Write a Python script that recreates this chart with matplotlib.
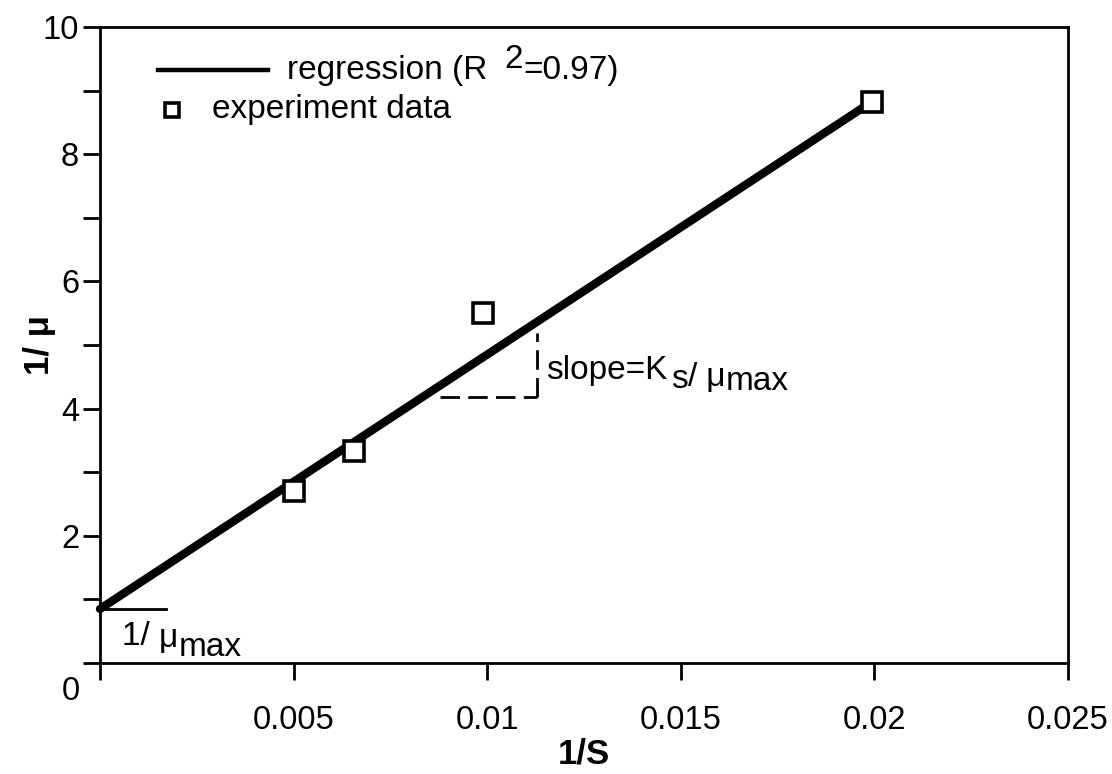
import numpy as np
import matplotlib
matplotlib.use("Agg")
import matplotlib.pyplot as plt

plt.rcParams['font.family'] = ['Liberation Sans', 'DejaVu Sans']

# Lineweaver-Burk style data: reciprocal substrate vs reciprocal growth rate
inv_S = [0.0050, 0.00656, 0.00989, 0.01994]
inv_mu = [2.70, 3.33, 5.50, 8.82]

# regression line parameters
intercept = 0.85
slope = 400.0
r_squared = 0.97

x_ticks = [0.005, 0.01, 0.015, 0.02, 0.025]
x_tick_labels = ["0.005", "0.01", "0.015", "0.02", "0.025"]
y_ticks = [2, 4, 6, 8, 10]
y_tick_labels = ["2", "4", "6", "8", "10"]


def text_run(ax, x, y, pieces, fontsize, transform=None, va='bottom', **kw):
    """Draw a run of text pieces side by side; each piece is (string, rise_pt, gap_pt)."""
    if transform is None:
        transform = ax.transData
    s0, rise0, _ = pieces[0]
    t = ax.text(x, y, s0, fontsize=fontsize, transform=transform, va=va, ha='left', **kw)
    prev_rise = rise0
    for s, rise, gap in pieces[1:]:
        t = ax.annotate(s, xy=(1, 0), xycoords=t, xytext=(gap, rise - prev_rise),
                        textcoords='offset points', va='bottom', ha='left',
                        fontsize=fontsize, **kw)
        prev_rise = rise
    return t


fig = plt.figure(figsize=(11.12, 7.74), dpi=100)
ax = fig.add_axes([100 / 1112, 1 - 663 / 774, 968 / 1112, 636 / 774])

ax.set_xlim(0, 0.025)
ax.set_ylim(0, 10)

# regression line
x_fit = np.array([0.0, inv_S[-1]])
y_fit = intercept + slope * x_fit
ax.plot(x_fit, y_fit, color='black', lw=6, solid_capstyle='round', zorder=3, clip_on=False)

# experimental points
ax.plot(inv_S, inv_mu, linestyle='none', marker='s', markersize=14,
        markerfacecolor='white', markeredgecolor='black', markeredgewidth=2.6, zorder=4)

# intercept marker and label
ax.plot([0, 0.0017], [intercept, intercept], color='black', lw=2, zorder=2, clip_on=False)
text_run(ax, 0.00057, 0.17, [("1/ ", 0, 0), ("\u03bc", -1.5, 0), ("max", -8, 0)],
         fontsize=24)

# slope triangle
x0, x1 = 0.00878, 0.01129
y0, y1 = 4.18, 5.19
ax.plot([x0, x1], [y0, y0], color='black', lw=2, dashes=(7, 3), zorder=2)
ax.plot([x1, x1], [y0, y1], color='black', lw=2, dashes=(7, 3), zorder=2)
text_run(ax, 0.01151, 4.36,
         [("slope=K", 0, 0), ("s", -7, 3), ("/", -5, 0), (" \u03bc", -5, 0),
          ("max", -8, 0)],
         fontsize=24)

# ticks
ax.set_xticks(x_ticks)
ax.set_xticklabels(x_tick_labels)
ax.set_yticks(y_ticks)
ax.set_yticklabels(y_tick_labels)
ax.set_yticks([0, 1, 3, 5, 7, 9], minor=True)
ax.set_xticks([0], minor=True)
ax.tick_params(axis='both', which='both', direction='out', width=2, length=12, colors='black')
ax.tick_params(axis='y', which='both', labelsize=23.5, pad=3)
ax.tick_params(axis='x', which='both', labelsize=23.5, pad=18)
ax.text(-0.00075, -0.45, "0", fontsize=23.5, ha='center', va='center')

for sp in ax.spines.values():
    sp.set_linewidth(2)

ax.set_xlabel("1/S", fontsize=25, fontweight='bold', labelpad=1)
ax.set_ylabel("1/ \u03bc", fontsize=25, fontweight='bold')
ax.yaxis.set_label_coords(-0.045, 0.5)

# legend, drawn in axes coordinates
ax.plot([0.060, 0.1736], [0.932, 0.932], transform=ax.transAxes, color='black', lw=3.2,
        clip_on=False)
ax.plot([0.0744], [0.8695], transform=ax.transAxes, linestyle='none', marker='s',
        markersize=10, markerfacecolor='white', markeredgecolor='black', markeredgewidth=2.6)
text_run(ax, 0.193, 0.932,
         [("regression (R ", 0, 0), ("2", 8, 6), ("=%.2f)" % r_squared, 0, 0)],
         fontsize=24, transform=ax.transAxes, va='center')
ax.text(0.1157, 0.8695, "experiment data", fontsize=24, transform=ax.transAxes,
        ha='left', va='center')

fig.savefig("out.png", dpi=100, facecolor='white')
